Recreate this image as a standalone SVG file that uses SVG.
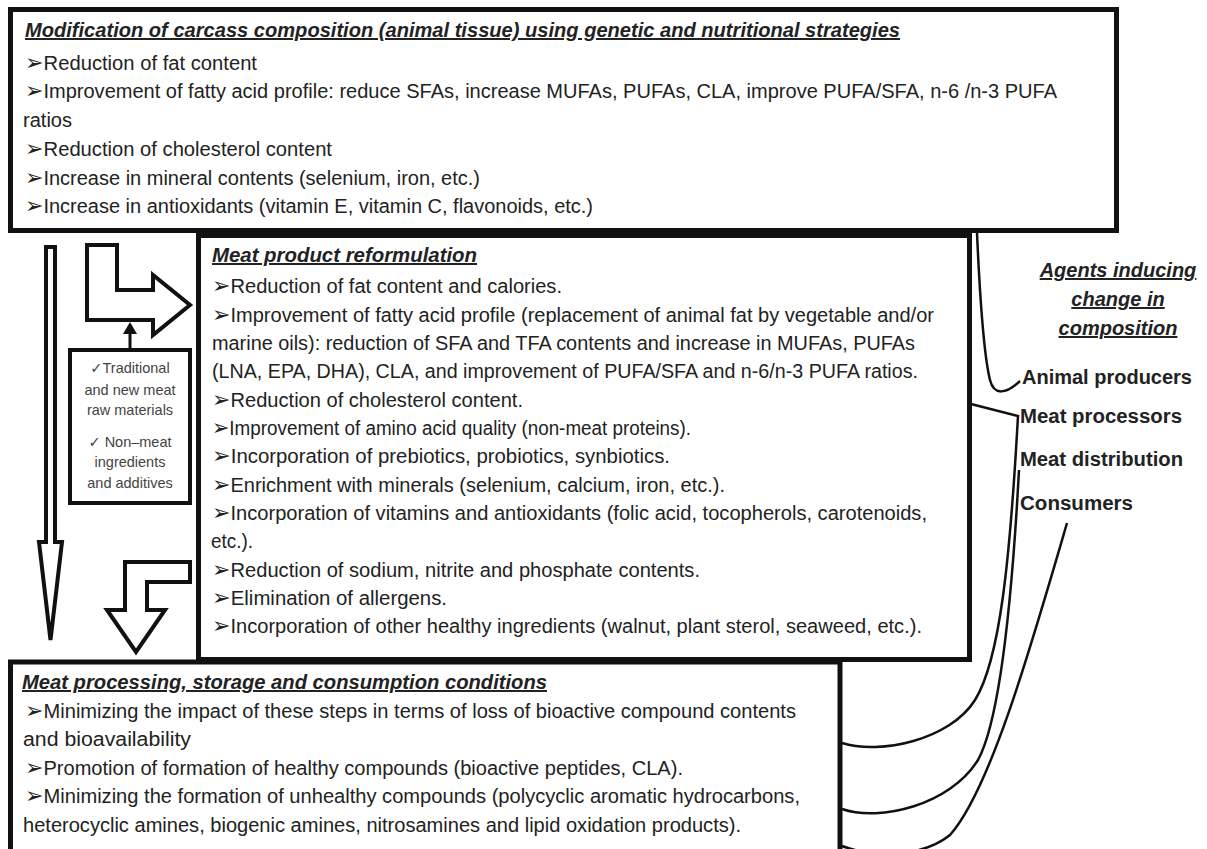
<svg xmlns="http://www.w3.org/2000/svg" width="1207" height="849" viewBox="0 0 1207 849">
<style>
.t{font-family:"Liberation Sans",Arial,sans-serif;font-size:20px;fill:#222}
.h{font-weight:bold;font-style:italic;text-decoration:underline}
.lb{font-weight:bold}
.bu{font-family:"DejaVu Sans",sans-serif;font-size:22px}
.s{font-family:"Liberation Sans",Arial,"DejaVu Sans",sans-serif;font-size:14.5px;fill:#444;text-anchor:middle}
.box{fill:#fff;stroke:#111;stroke-width:5}
.arw{fill:#fff;stroke:#111;stroke-width:4;stroke-linejoin:miter}
.conn{fill:none;stroke:#111;stroke-width:2.5}
</style>
<rect width="1207" height="849" fill="#fff"/>
<g id="bottom-box">
<rect class="box" x="10.5" y="662" width="829.5" height="200"/>
<text class="t h" x="22" y="689" textLength="525" lengthAdjust="spacingAndGlyphs">Meat processing, storage and consumption conditions</text>
<text class="t" x="25" y="718" textLength="771" lengthAdjust="spacingAndGlyphs"><tspan class="bu">➢</tspan>Minimizing the impact of these steps in terms of loss of bioactive compound contents</text>
<text class="t" x="23" y="746" textLength="168" lengthAdjust="spacingAndGlyphs">and bioavailability</text>
<text class="t" x="25" y="775" textLength="658" lengthAdjust="spacingAndGlyphs"><tspan class="bu">➢</tspan>Promotion of formation of healthy compounds (bioactive peptides, CLA).</text>
<text class="t" x="25" y="803" textLength="775" lengthAdjust="spacingAndGlyphs"><tspan class="bu">➢</tspan>Minimizing the formation of unhealthy compounds (polycyclic aromatic hydrocarbons,</text>
<text class="t" x="23" y="832" textLength="718" lengthAdjust="spacingAndGlyphs">heterocyclic amines, biogenic amines, nitrosamines and lipid oxidation products).</text>
</g>
<g id="middle-box">
<rect class="box" x="198.5" y="235.5" width="771" height="424"/>
<text class="t h" x="212" y="262" textLength="265" lengthAdjust="spacingAndGlyphs">Meat product reformulation</text>
<text class="t" x="212" y="293" textLength="350" lengthAdjust="spacingAndGlyphs"><tspan class="bu">➢</tspan>Reduction of fat content and calories.</text>
<text class="t" x="212" y="322" textLength="722" lengthAdjust="spacingAndGlyphs"><tspan class="bu">➢</tspan>Improvement of fatty acid profile (replacement of animal fat by vegetable and/or</text>
<text class="t" x="212" y="350" textLength="703" lengthAdjust="spacingAndGlyphs">marine oils): reduction of SFA and TFA contents and increase in MUFAs, PUFAs</text>
<text class="t" x="212" y="378" textLength="706" lengthAdjust="spacingAndGlyphs">(LNA, EPA, DHA), CLA, and improvement of PUFA/SFA and n-6/n-3 PUFA ratios.</text>
<text class="t" x="212" y="407" textLength="311" lengthAdjust="spacingAndGlyphs"><tspan class="bu">➢</tspan>Reduction of cholesterol content.</text>
<text class="t" x="212" y="435" textLength="479" lengthAdjust="spacingAndGlyphs"><tspan class="bu">➢</tspan>Improvement of amino acid quality (non-meat proteins).</text>
<text class="t" x="212" y="463" textLength="458" lengthAdjust="spacingAndGlyphs"><tspan class="bu">➢</tspan>Incorporation of  prebiotics, probiotics, synbiotics.</text>
<text class="t" x="212" y="492" textLength="513" lengthAdjust="spacingAndGlyphs"><tspan class="bu">➢</tspan>Enrichment with minerals (selenium, calcium, iron, etc.).</text>
<text class="t" x="212" y="520" textLength="715" lengthAdjust="spacingAndGlyphs"><tspan class="bu">➢</tspan>Incorporation of vitamins and antioxidants (folic acid, tocopherols, carotenoids,</text>
<text class="t" x="211" y="548" textLength="42" lengthAdjust="spacingAndGlyphs">etc.).</text>
<text class="t" x="212" y="577" textLength="488" lengthAdjust="spacingAndGlyphs"><tspan class="bu">➢</tspan>Reduction of sodium, nitrite and phosphate contents.</text>
<text class="t" x="212" y="605" textLength="235" lengthAdjust="spacingAndGlyphs"><tspan class="bu">➢</tspan>Elimination of allergens.</text>
<text class="t" x="212" y="633" textLength="710" lengthAdjust="spacingAndGlyphs"><tspan class="bu">➢</tspan>Incorporation of other healthy ingredients (walnut, plant sterol, seaweed, etc.).</text>
</g>
<g id="top-box">
<rect class="box" x="10.5" y="9.5" width="1106" height="221"/>
<text class="t h" x="25" y="37" textLength="875" lengthAdjust="spacingAndGlyphs">Modification of carcass composition (animal tissue) using genetic and nutritional strategies</text>
<text class="t" x="25" y="70" textLength="232" lengthAdjust="spacingAndGlyphs"><tspan class="bu">➢</tspan>Reduction of fat content</text>
<text class="t" x="25" y="98" textLength="1032" lengthAdjust="spacingAndGlyphs"><tspan class="bu">➢</tspan>Improvement of fatty acid profile: reduce SFAs, increase MUFAs, PUFAs, CLA, improve PUFA/SFA, n-6 /n-3 PUFA</text>
<text class="t" x="23" y="127" textLength="49" lengthAdjust="spacingAndGlyphs">ratios</text>
<text class="t" x="25" y="156" textLength="307" lengthAdjust="spacingAndGlyphs"><tspan class="bu">➢</tspan>Reduction of cholesterol content</text>
<text class="t" x="25" y="185" textLength="455" lengthAdjust="spacingAndGlyphs"><tspan class="bu">➢</tspan>Increase in mineral contents (selenium, iron, etc.)</text>
<text class="t" x="25" y="213" textLength="568" lengthAdjust="spacingAndGlyphs"><tspan class="bu">➢</tspan>Increase in antioxidants (vitamin E, vitamin C, flavonoids, etc.)</text>
</g>
<g id="ingredients-box">
<rect x="70" y="350" width="120" height="153" fill="#fff" stroke="#111" stroke-width="4"/>
<text class="s" x="130" y="373">✓Traditional</text>
<text class="s" x="130" y="395">and new meat</text>
<text class="s" x="130" y="415">raw materials</text>
<text class="s" x="130" y="447">✓ Non–meat</text>
<text class="s" x="130" y="467">ingredients</text>
<text class="s" x="130" y="488">and additives</text>
</g>
<g id="flow-arrows">
<polygon class="arw" stroke-width="3" points="46,247 55,247 55,542 62,542 50.5,640 39,542 46,542"/>
<polygon class="arw" points="87,245 117,245 117,290 153,290 153,275 190,305 153,335 153,320 87,320"/>
<polygon class="arw" points="125,562 190,562 190,582 147,582 147,610 165,610 136,652 107,610 125,610"/>
<line x1="130" y1="348" x2="130" y2="332" stroke="#111" stroke-width="3"/>
<polygon points="123,334 137,334 130,322" fill="#111"/>
</g>
<g id="agents">
<text class="t h" x="1118" y="277" text-anchor="middle">Agents inducing</text>
<text class="t h" x="1118" y="306" text-anchor="middle">change in</text>
<text class="t h" x="1118" y="335" text-anchor="middle">composition</text>
<text class="t lb" x="1022" y="384" textLength="170" lengthAdjust="spacingAndGlyphs">Animal producers</text>
<text class="t lb" x="1020" y="423" textLength="162" lengthAdjust="spacingAndGlyphs">Meat processors</text>
<text class="t lb" x="1020" y="466" textLength="163" lengthAdjust="spacingAndGlyphs">Meat distribution</text>
<text class="t lb" x="1020" y="510" textLength="113" lengthAdjust="spacingAndGlyphs">Consumers</text>
</g>
<g id="connectors">
<path class="conn" d="M977,233 C980,300 985,360 990,380 C994,396 1006,394 1020,381"/>
<path class="conn" d="M971,404 L1018,416 C1010,560 1000,660 975,700 C950,740 880,755 842,743"/>
<path class="conn" d="M1019,470 C1012,600 1000,720 978,760 C950,805 880,822 842,809"/>
<path class="conn" d="M1067,523 C1030,650 990,790 950,835 C925,855 880,860 842,846"/>
</g>
</svg>
